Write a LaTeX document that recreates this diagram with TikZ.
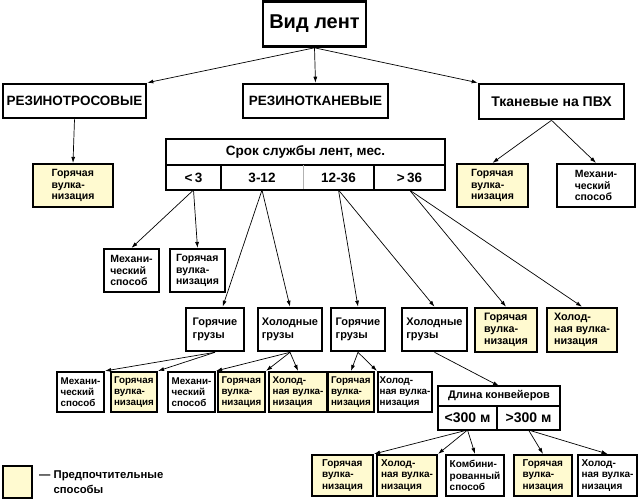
\documentclass[tikz,border=0pt]{standalone}
\usepackage{fontspec}
\setmainfont{Liberation Sans}
\usepackage{tikz}
\usetikzlibrary{shapes,arrows,arrows.meta}
\usetikzlibrary{positioning}
\definecolor{myyellow}{RGB}{255,250,208}
\newcommand\myfont[2]{\bfseries\fontsize{#1}{#2}\selectfont}
\newcommand\mynode[6][]{%
  \node[mynode,#1,minimum width=#3pt,minimum height=#4pt] (#5) at (#2) {#6};
}

\begin{document}
\begin{tikzpicture}[>={Latex[length=6pt,width=4pt]}, x=1pt, y=-1pt,
mynode/.style={
  rectangle,
  draw,
  line width=2.2pt,
  fill=white,
  align=left,
  inner sep=1pt,
  font=\myfont{10.5}{11.7}},
bignode/.style={line width=2.6pt, align=center, font=\myfont{13.5}{15}},
pref/.style={fill=myyellow},
small/.style={font=\myfont{9.8}{11}},
cargo/.style={line width=2.6pt, font=\myfont{11}{12.5}},
cell/.style={
  rectangle,
  inner sep=0pt,
  outer sep=0pt},
link/.style={->, line width=0.7pt}
]
\useasboundingbox (0,0) rectangle (639,498);

% kinds of belts
\mynode[bignode,font=\myfont{20}{24}]{314.5,24}{103}{45}{vid}{Вид лент}
\mynode[bignode]{74.5,101}{143}{34}{rt}{РЕЗИНОТРОСОВЫЕ}
\mynode[bignode]{315.5,101}{145}{34}{rtk}{РЕЗИНОТКАНЕВЫЕ}
\mynode[bignode,font=\myfont{14}{16}]{551.5,101.5}{145}{35}{pvh}{Тканевые на ПВХ}

\mynode[pref]{73,185.5}{80}{43}{gv0}{Горячая\\вулка-\\низация}
\mynode[pref]{492.5,185.5}{71}{43}{gv1}{Горячая\\вулка-\\низация}
\mynode[]{596,185.5}{78}{43}{mh1}{Механи-\\ческий\\способ}

% service life table
\node[cell,minimum width=279pt,minimum height=26pt,font=\myfont{13.5}{15}] (srok) at (305.5,152) {Срок службы лент, мес.};
\node[cell,minimum width=55pt,minimum height=25pt,anchor=north west,font=\myfont{13.5}{15}] (s1) at (srok.south west) {<\,3};
\node[cell,minimum width=82pt,minimum height=25pt,right=0pt of s1,font=\myfont{13.5}{15}] (s2) {3-12};
\node[cell,minimum width=71pt,minimum height=25pt,right=0pt of s2,font=\myfont{13.5}{15}] (s3) {12-36};
\node[cell,minimum width=71pt,minimum height=25pt,right=0pt of s3,font=\myfont{13.5}{15}] (s4) {>\,36};
\draw[line width=1.2pt] (srok.south west) -- (srok.south east);
\draw[line width=1.2pt] (s1.north east) -- (s1.south east);
\draw[line width=0.5pt,gray!60] (s2.north east) -- (s2.south east);
\draw[line width=1.2pt] (s3.north east) -- (s3.south east);
\draw[line width=2.4pt] (srok.north west) rectangle (s4.south east);

\mynode[]{131.5,270.5}{55}{43}{mh2}{Механи-\\ческий\\способ}
\mynode[]{197.5,270.5}{55}{43}{gv2}{Горячая\\вулка-\\низация}

\mynode[cargo]{215,329.5}{58}{43}{gg1}{Горячие\\грузы}
\mynode[cargo]{290,329.5}{64}{43}{hg1}{Холодные\\грузы}
\mynode[cargo]{358,329.5}{54}{43}{gg2}{Горячие\\грузы}
\mynode[cargo]{434.5,329.5}{65}{43}{hg2}{Холодные\\грузы}
\mynode[pref,line width=2.6pt,font=\myfont{10.8}{11.7}]{506,330}{62}{44}{gv3}{Горячая\\вулка-\\низация}
\mynode[pref,line width=2.6pt,font=\myfont{10.8}{11.7}]{582,330}{70}{44}{hv3}{Холод-\\ная вулка-\\низация}

% fourth row
\mynode[small]{80.5,392}{47}{40}{b1}{Механи-\\ческий\\способ}
\mynode[small,pref]{134,392}{46}{40}{b2}{Горячая\\вулка-\\низация}
\mynode[small]{191.5,392}{47}{40}{b3}{Механи-\\ческий\\способ}
\mynode[small,pref]{241.5,392}{47}{40}{b4}{Горячая\\вулка-\\низация}
\mynode[small,pref]{298,392}{58}{40}{b5}{Холод-\\ная вулка-\\низация}
\mynode[small,pref]{351,392}{46}{40}{b6}{Горячая\\вулка-\\низация}
\mynode[small]{405,392}{54}{40}{b7}{Холод-\\ная вулка-\\низация}

% conveyor length table
\node[cell,minimum width=122pt,minimum height=20pt,font=\myfont{11}{13}] (dl) at (499,396) {Длина конвейеров};
\node[cell,minimum width=59pt,minimum height=24pt,anchor=north west,font=\myfont{14}{16}] (c1) at (dl.south west) {<300 м};
\node[cell,minimum width=63pt,minimum height=24pt,right=0pt of c1,font=\myfont{14}{16}] (c2) {>300 м};
\draw[line width=1.2pt] (dl.south west) -- (dl.south east);
\draw[line width=1.2pt] (c1.north east) -- (c1.south east);
\draw[line width=2.4pt] (dl.north west) rectangle (c2.south east);

\mynode[pref,font=\myfont{10}{11.5}]{342.5,475.5}{61}{41}{d1}{Горячая\\вулка-\\низация}
\mynode[pref,font=\myfont{10}{11.5}]{407,475.5}{60}{41}{d2}{Холод-\\ная вулка-\\низация}
\mynode[font=\myfont{10}{11.5}]{475,475.5}{58}{41}{d3}{Комбини-\\рованный\\способ}
\mynode[pref,font=\myfont{10}{11.5}]{543,475.5}{58}{41}{d4}{Горячая\\вулка-\\низация}
\mynode[font=\myfont{10}{11.5}]{607.5,475.5}{59}{41}{d5}{Холод-\\ная вулка-\\низация}

% legend
\mynode[pref]{17.5,482}{29}{32}{leg}{}
\node[anchor=west,align=left,inner sep=0pt,font=\myfont{11.3}{15}] (legtxt) at (39,482) {— Предпочтительные\\\hphantom{— }способы};

% connectors
\draw[link] (vid.south) -- (rt.north east);
\draw[link] (vid.south) -- (rtk.north);
\draw[link] (vid.south) -- (pvh.north west);
\draw[link] (rt.south) -- (gv0.north);
\draw[link] (pvh.south) -- (gv1.north);
\draw[link] (pvh.south) -- (mh1.north);
\draw[link] (s1.south) -- (mh2.north);
\draw[link] (s1.south) -- (gv2.north);
\draw[link] (s2.south) -- (gg1);
\draw[link] (s2.south) -- (hg1.north);
\draw[link] (s3.south) -- (gg2.north);
\draw[link] (s3.south) -- (hg2.north);
\draw[link] (s4.south) -- (gv3.north);
\draw[link] (s4.south) -- (hv3.north);
\draw[link] (gg1.south) -- (b1.north east);
\draw[link] (gg1.south) -- (b2.north east);
\draw[link] (hg1.south) -- (b3.north east);
\draw[link] (hg1.south) -- (b4.north east);
\draw[link] (hg1.south) -- (b5.north);
\draw[link] (gg2.south) -- (b6.north);
\draw[link] (gg2.south) -- (b7.north west);
\draw[link] (hg2.south) -- (dl.north);
\draw[link] (c1.south) -- (d1.north east);
\draw[link] (c1.south) -- (d2.north east);
\draw[link] (c1.south) -- (d3.north);
\draw[link] (c2.south) -- (d4.north);
\draw[link] (c2.south) -- (d5.north);
\end{tikzpicture}
\end{document}
